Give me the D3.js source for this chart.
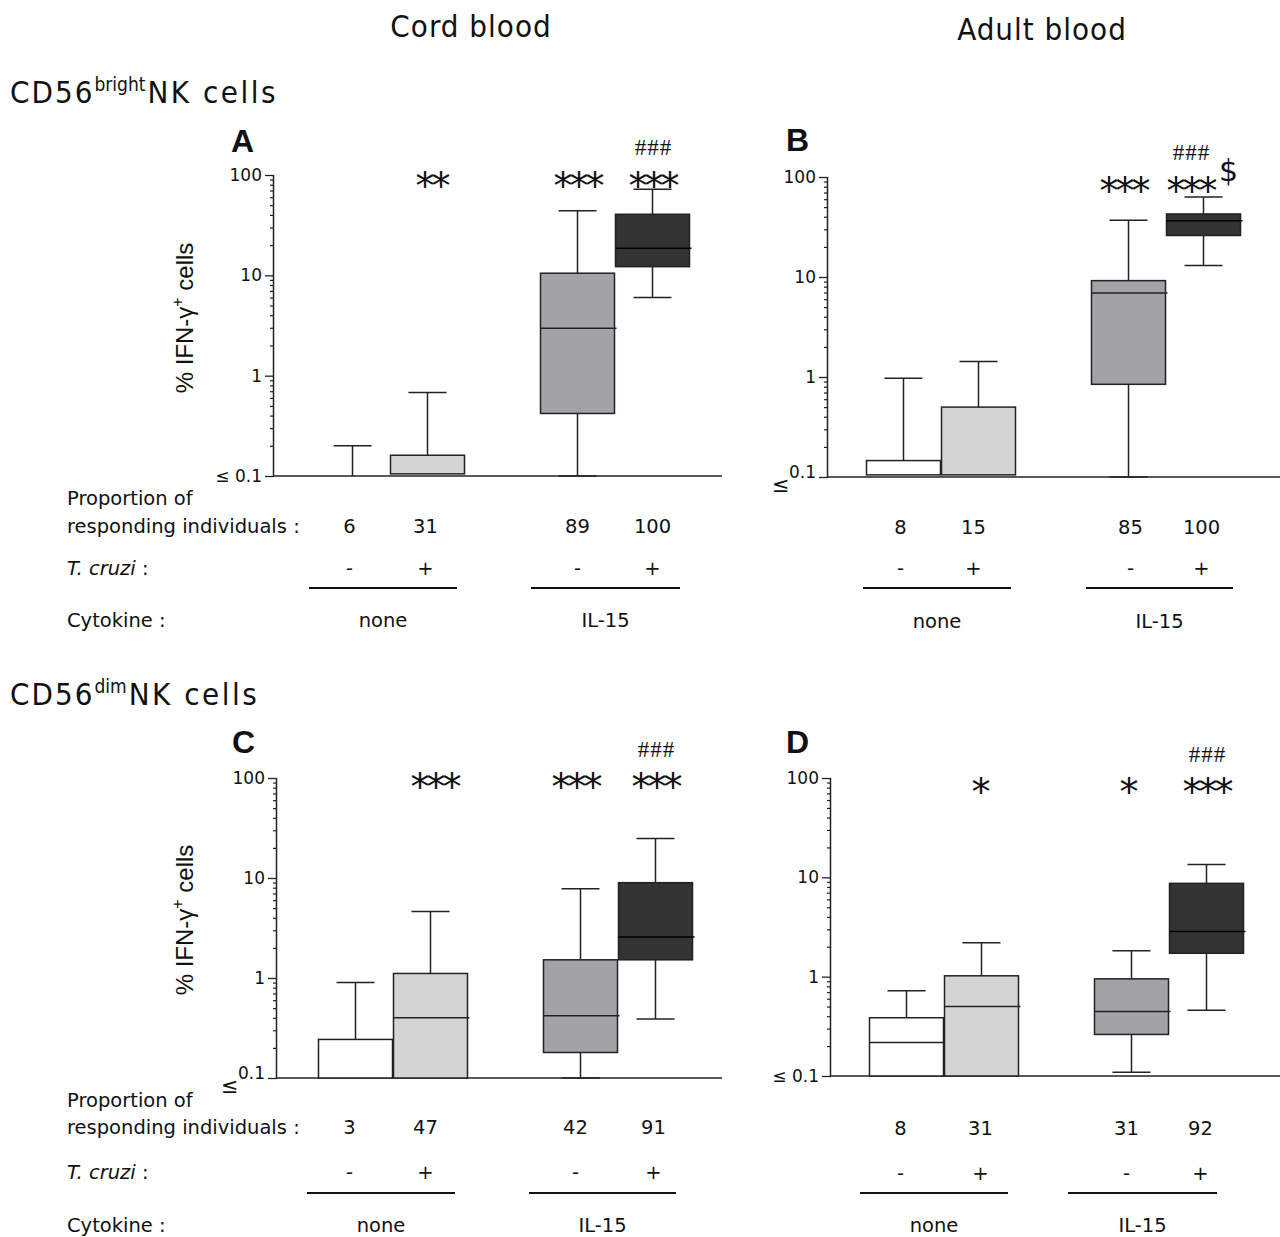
<!DOCTYPE html>
<html><head><meta charset="utf-8">
<script src="https://cdn.jsdelivr.net/npm/d3@7"></script>
<style>body{margin:0;background:#fff}svg{display:block}</style>
</head><body>
<svg id="chart" width="1280" height="1237"></svg>
<script>
// ---------------- data ----------------
const groups = ["none-", "none+", "IL15-", "IL15+"];
const tCruzi = ["-", "+", "-", "+"];
const cytokines = ["none", "IL-15"];
const yTickValues = [0.1, 1, 10, 100];
const yTickLabels = ["0.1", "1", "10", "100"];
const columnTitles = ["Cord blood", "Adult blood"];
// each box: [whisker low, q1, median, q3, whisker high]  (% IFN-γ+ cells)
const statsA = [[0.1, 0.1, 0.1, 0.1, 0.2], [0.105, 0.105, 0.105, 0.161, 0.68], [0.1, 0.42, 2.97, 10.5, 44], [6.0, 12.2, 18.6, 40.6, 72]];
const statsB = [[0.105, 0.105, 0.105, 0.146, 0.97], [0.105, 0.105, 0.105, 0.5, 1.43], [0.1, 0.845, 6.9, 9.2, 37], [13, 26, 36.5, 42.7, 63]];
const statsC = [[0.1, 0.1, 0.1, 0.243, 0.9], [0.1, 0.1, 0.4, 1.11, 4.63], [0.1, 0.18, 0.42, 1.52, 7.8], [0.39, 1.52, 2.57, 8.98, 24.9]];
const statsD = [[0.1, 0.1, 0.218, 0.386, 0.72], [0.1, 0.1, 0.5, 1.02, 2.2], [0.109, 0.262, 0.447, 0.95, 1.82], [0.46, 1.72, 2.85, 8.7, 13.5]];
// proportion of responding individuals (%)
const respA = [6, 31, 89, 100];
const respB = [8, 15, 85, 100];
const respC = [3, 47, 42, 91];
const respD = [8, 31, 31, 92];
// significance marks
const starsA = ["", "**", "***", "***"];
const starsB = ["", "", "***", "***"];
const starsC = ["", "***", "***", "***"];
const starsD = ["", "*", "*", "***"];
const hashA = ["", "", "", "###"];
const hashB = ["", "", "", "###"];
const hashC = ["", "", "", "###"];
const hashD = ["", "", "", "###"];
const dollarB = ["", "", "", "$"];

// ---------------- styles / layout ----------------
const fills = ["#ffffff", "#d4d4d4", "#a3a2a7", "#333333"];
const ink = "#222";
const FONT = "'DejaVu Sans', Verdana, sans-serif";
const COND = "'DejaVu Sans Condensed', 'DejaVu Sans', sans-serif";

const panels = [
  {letter: "A", stats: statsA, resp: respA, stars: starsA, hash: hashA, extra: null,
   axisX: 274, xStart: 315, yTop: 175, yBot: 476, axisEnd: 722, leq: "inline",
   rows: {prop: 498, num: 526, tc: 568, line: 588, cyt: 620}, rowLabels: true, ylab: 318,
   letterPos: [231, 152], starY: 176, hashY: 148, starShift: [4, 4, 0, 0],
   lines: [[-6, -8], [-9, -10]], labShift: [-3, -2, 0, 0]},
  {letter: "B", stats: statsB, resp: respB, stars: starsB, hash: hashB, extra: dollarB,
   axisX: 828, xStart: 866, yTop: 177, yBot: 477, axisEnd: 1280, leq: "below",
   rows: {num: 527, tc: 568, line: 588, cyt: 621}, rowLabels: false,
   letterPos: [786, 151], starY: 181, hashY: 153, starShift: [0, 0, -5, -13],
   lines: [[-3, -5], [-5, -8]], labShift: [-3, -5, 2, -2]},
  {letter: "C", stats: statsC, resp: respC, stars: starsC, hash: hashC, extra: null,
   axisX: 277, xStart: 318, yTop: 778, yBot: 1078, axisEnd: 722, leq: "below",
   rows: {prop: 1100, num: 1127, tc: 1172, line: 1193, cyt: 1225}, rowLabels: true, ylab: 920,
   letterPos: [232, 753], starY: 777, hashY: 750, starShift: [0, 4, -5, 0],
   lines: [[-11, -13], [-14, -17]], labShift: [-6, -5, -5, -2]},
  {letter: "D", stats: statsD, resp: respD, stars: starsD, hash: hashD, extra: null,
   axisX: 831, xStart: 869, yTop: 778, yBot: 1076, axisEnd: 1280, leq: "inline",
   rows: {num: 1128, tc: 1173, line: 1193, cyt: 1225}, rowLabels: false,
   letterPos: [786, 753], starY: 782, hashY: 755, starShift: [0, -2, -4, 0],
   lines: [[-9, -11], [-26, -27]], labShift: [-6, -1, -5, -6]}
];

const svg = d3.select("#chart");

// ---------------- titles ----------------
svg.append("text").attr("x", 471).attr("y", 37).attr("text-anchor", "middle")
  .attr("font-family", COND).attr("font-size", 31).attr("letter-spacing", 1).attr("fill", "#111").text(columnTitles[0]);
svg.append("text").attr("x", 1042).attr("y", 40).attr("text-anchor", "middle")
  .attr("font-family", COND).attr("font-size", 31).attr("letter-spacing", 1).attr("fill", "#111").text(columnTitles[1]);

function rowTitle(y, sup) {
  const t = svg.append("text").attr("x", 10).attr("y", y).attr("font-family", COND)
    .attr("font-size", 31).attr("fill", "#111");
  t.append("tspan").attr("letter-spacing", 2).text("CD56");
  t.append("tspan").attr("font-size", 19).attr("dy", -12).text(sup);
  t.append("tspan").attr("dy", 12).attr("dx", 2).attr("letter-spacing", 2.5).text("NK cells");
}
rowTitle(103, "bright");
rowTitle(705, "dim");

// ---------------- panels ----------------
const minorTicks = [];
[0.1, 1, 10].forEach(d => { for (let k = 2; k <= 9; k++) minorTicks.push(+(d * k).toPrecision(3)); });

panels.forEach(p => {
  const g = svg.append("g");
  const y = d3.scaleLog().domain([0.1, 100]).range([p.yBot, p.yTop]);
  const slots = ["none-", "none+", "gap", "IL15-", "IL15+"];
  const x = d3.scaleBand().domain(slots).range([p.xStart, p.xStart + 375]).padding(0);
  const bw = 74, capW = 38;
  const cx = k => x(groups[k]) + x.bandwidth() / 2;

  // panel letter
  g.append("text").attr("x", p.letterPos[0]).attr("y", p.letterPos[1])
    .attr("font-family", "'Liberation Sans', Arial, sans-serif").attr("font-weight", "bold")
    .attr("font-size", 32).attr("fill", "#111").text(p.letter);

  // minor ticks
  const minorAxis = d3.axisLeft(y).tickValues(minorTicks).tickSize(4).tickFormat("");
  g.append("g").attr("transform", `translate(${p.axisX},0)`).call(minorAxis)
    .call(a => a.select(".domain").remove())
    .call(a => a.selectAll("line").attr("stroke", ink).attr("stroke-width", 1.2));
  // major ticks
  const majorAxis = d3.axisLeft(y).tickValues(yTickValues).tickSize(9).tickPadding(3)
    .tickFormat((d, i) => (p.leq === "inline" && i === 0) ? "≤ " + yTickLabels[i] : yTickLabels[i]);
  const ax = g.append("g").attr("transform", `translate(${p.axisX},0)`).call(majorAxis);
  ax.select(".domain").attr("stroke", ink).attr("stroke-width", 1.5).attr("d", `M-0.5,${p.yTop}V${p.yBot}`);
  ax.selectAll("line").attr("stroke", ink).attr("stroke-width", 1.3);
  ax.selectAll("text").attr("font-family", FONT).attr("font-size", 17).attr("fill", "#111");
  if (p.leq === "below") {
    ax.selectAll("text").filter((d, i) => i === 0).attr("dy", "0.05em");
    g.append("text").attr("x", p.axisX - 56).attr("y", p.yBot + 15).attr("font-family", FONT)
      .attr("font-size", 21).attr("fill", "#111").text("≤");
  }
  // x baseline
  g.append("line").attr("x1", p.axisX).attr("x2", p.axisEnd).attr("y1", p.yBot).attr("y2", p.yBot)
    .attr("stroke", ink).attr("stroke-width", 1.5);

  // y label
  if (p.ylab) {
    const t = g.append("text").attr("transform", `translate(193,${p.ylab}) rotate(-90)`)
      .attr("text-anchor", "middle").attr("font-family", "'Liberation Sans', Arial, sans-serif")
      .attr("font-size", 24).attr("fill", "#111");
    t.append("tspan").text("% IFN-γ");
    t.append("tspan").attr("font-size", 16).attr("dy", -10).text("+");
    t.append("tspan").attr("dy", 10).text(" cells");
  }

  // boxes
  p.stats.forEach((s, k) => {
    const [lo, q1, med, q3, hi] = s;
    const c = cx(k), x0 = x(groups[k]) + 0.5;
    const bg = g.append("g").attr("stroke", ink).attr("stroke-width", 1.5);
    if (hi > q3) {
      bg.append("line").attr("x1", c).attr("x2", c).attr("y1", y(q3)).attr("y2", y(hi));
      bg.append("line").attr("x1", c - capW / 2).attr("x2", c + capW / 2).attr("y1", y(hi)).attr("y2", y(hi));
    }
    if (lo < q1) {
      bg.append("line").attr("x1", c).attr("x2", c).attr("y1", y(q1)).attr("y2", y(lo));
      bg.append("line").attr("x1", c - capW / 2).attr("x2", c + capW / 2).attr("y1", y(lo)).attr("y2", y(lo));
    }
    if (q3 > q1) {
      bg.append("rect").attr("x", x0).attr("y", y(q3)).attr("width", bw).attr("height", y(q1) - y(q3))
        .attr("fill", fills[k]);
      if (med > q1 && med < q3) {
        bg.append("line").attr("x1", x0).attr("x2", x0 + bw + 2).attr("y1", y(med)).attr("y2", y(med))
          .attr("stroke", k === 3 ? "#000" : ink);
      }
    }
  });

  // significance marks
  p.stars.forEach((st, k) => {
    if (!st) return;
    g.append("text").attr("x", cx(k) + p.starShift[k]).attr("y", p.starY + 23).attr("text-anchor", "middle")
      .attr("font-family", FONT).attr("font-size", 38).attr("letter-spacing", -3).attr("fill", "#111").text(st);
  });
  p.hash.forEach((h, k) => {
    if (!h) return;
    g.append("text").attr("x", cx(k) + p.starShift[k] + 1).attr("y", p.hashY + 7).attr("text-anchor", "middle")
      .attr("font-family", "'Liberation Serif', 'Times New Roman', serif").attr("font-size", 23)
      .attr("letter-spacing", 1).attr("fill", "#111").text(h);
  });
  if (p.extra) p.extra.forEach((e, k) => {
    if (!e) return;
    g.append("text").attr("x", cx(k) + 25).attr("y", p.starY).attr("text-anchor", "middle")
      .attr("font-family", FONT).attr("font-size", 30).attr("fill", "#111").text(e);
  });

  // lower table
  const tf = sel => sel.attr("font-family", FONT).attr("font-size", 19.5).attr("fill", "#111");
  if (p.rowLabels) {
    tf(g.append("text").attr("x", 67).attr("y", p.rows.prop).attr("dy", "0.35em")).text("Proportion of");
    tf(g.append("text").attr("x", 67).attr("y", p.rows.num).attr("dy", "0.35em")).text("responding individuals :");
    const tc = tf(g.append("text").attr("x", 67).attr("y", p.rows.tc).attr("dy", "0.35em"));
    tc.append("tspan").attr("font-style", "italic").text("T. cruzi");
    tc.append("tspan").text(" :");
    tf(g.append("text").attr("x", 67).attr("y", p.rows.cyt).attr("dy", "0.35em")).text("Cytokine :");
  }
  p.resp.forEach((r, k) => {
    tf(g.append("text").attr("x", cx(k) + p.labShift[k]).attr("y", p.rows.num).attr("dy", "0.35em")
      .attr("text-anchor", "middle")).text(r);
    tf(g.append("text").attr("x", cx(k) + p.labShift[k]).attr("y", p.rows.tc).attr("dy", "0.35em")
      .attr("text-anchor", "middle")).text(tCruzi[k]);
  });
  cytokines.forEach((cy, j) => {
    const a = x(groups[2 * j]) + p.lines[j][0];
    const b = x(groups[2 * j + 1]) + x.bandwidth() + p.lines[j][1];
    g.append("line").attr("x1", a).attr("x2", b).attr("y1", p.rows.line).attr("y2", p.rows.line)
      .attr("stroke", "#111").attr("stroke-width", 2);
    tf(g.append("text").attr("x", (a + b) / 2).attr("y", p.rows.cyt).attr("dy", "0.35em")
      .attr("text-anchor", "middle")).text(cy);
  });
});
</script>
</body></html>
